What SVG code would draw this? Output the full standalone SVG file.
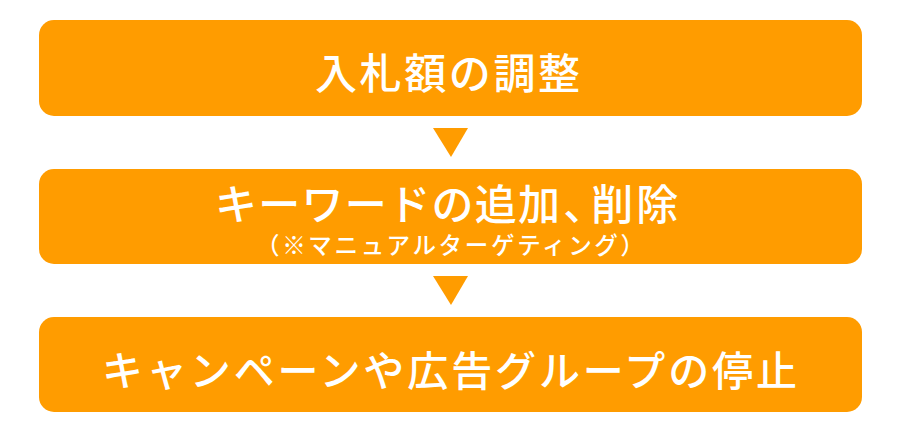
<svg xmlns="http://www.w3.org/2000/svg" width="901" height="433" viewBox="0 0 901 433">
<style>
.box{fill:#FF9C00}
.arrow{fill:#FF9C00}
.t{fill:#fff;font-family:"Noto Sans CJK JP","Noto Sans",sans-serif;font-weight:500;dominant-baseline:central;text-anchor:start}
.big{font-size:42px}
.sub{font-size:23.5px}
</style>
<rect width="901" height="433" fill="#fff"/>
<g id="node1">
<rect class="box" x="39" y="20" width="823" height="96" rx="15"/>
<text class="t big" x="315" y="70" textLength="265" lengthAdjust="spacing">入札額の調整</text>
</g>
<g id="node2">
<rect class="box" x="39" y="169" width="823" height="95" rx="15"/>
<text class="t big" x="215" y="201"><tspan textLength="345" lengthAdjust="spacing">キーワードの追加</tspan><tspan dx="2">、</tspan><tspan dx="-14" textLength="87" lengthAdjust="spacing">削除</tspan></text>
<text class="t sub" x="256" y="244" textLength="388" lengthAdjust="spacing">（※マニュアルターゲティング）</text>
</g>
<g id="node3">
<rect class="box" x="39" y="317" width="823" height="95" rx="15"/>
<text class="t big" style="font-size:41px" x="102" y="368" textLength="695" lengthAdjust="spacing">キャンペーンや広告グループの停止</text>
</g>
<g id="connectors">
<polygon class="arrow" points="433,128 468,128 451,157"/>
<polygon class="arrow" points="433,276 468,276 451,305"/>
</g>
</svg>
